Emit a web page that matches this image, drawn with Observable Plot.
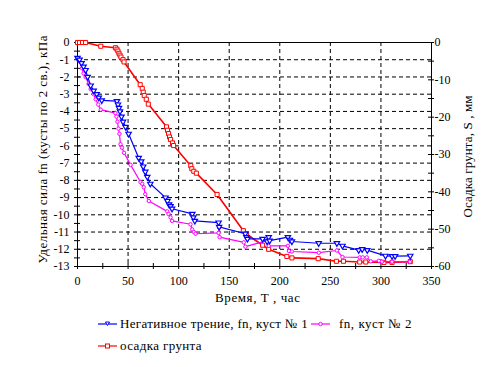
<!DOCTYPE html>
<html>
<head>
<meta charset="utf-8">
<script src="https://cdn.jsdelivr.net/npm/d3@7"></script>
<script src="https://cdn.jsdelivr.net/npm/@observablehq/plot@0.6"></script>
<style>
  html, body { margin: 0; padding: 0; background: #fff; }
  #wrap { position: relative; width: 489px; height: 367px; font-family: 'Liberation Serif', serif; font-size: 13px; color: #000; }
  .leg { position: absolute; display: flex; align-items: center; white-space: nowrap; font-family: 'Liberation Serif', serif; font-size: 13px; }
  .leg svg { display: block; }
</style>
</head>
<body>
<div id="wrap"></div>
<script>
// ---- Data ----
// Осадка грунта (S, мм) vs time T (час)
const soilT = [0, 2, 5, 8, 23, 37.5, 39, 40, 41, 42, 43, 45, 46, 62, 64, 65, 66, 68, 70, 88, 89, 90, 91, 92, 94, 95, 112, 113, 115, 117.5, 138, 164, 167, 183, 189, 207, 212, 238, 256, 263, 279, 285, 303, 311, 329];
const soilS = [0, 0, 0, 0, -1.0, -1.4, -1.8, -2.3, -2.9, -3.4, -3.9, -4.6, -5.2, -11.3, -12.3, -13.3, -14.2, -15.2, -16.5, -22.6, -23.5, -24.4, -25.3, -26.0, -26.9, -27.6, -33.0, -33.8, -34.5, -35.0, -40.7, -50.4, -51.3, -54.3, -55.4, -57.3, -57.7, -57.9, -58.6, -58.6, -58.8, -58.8, -58.9, -58.9, -58.7];

// Негативное трение, fn, куст № 1 (кПа)
const fn1T = [0, 2, 4, 6, 8, 10, 13, 16, 19, 21, 24, 39, 40, 41, 42, 43.5, 45, 47.5, 50.5, 60.5, 63, 65, 67, 69, 72, 87, 89, 90.5, 92, 93.5, 113.5, 114.5, 116, 139.5, 140, 166, 167, 168, 183, 187.5, 189, 190, 208, 210, 212, 238.5, 256.5, 262, 278, 281.5, 286.5, 304.5, 311, 314, 329];
const fn1V = [-0.9, -1.0, -1.2, -1.4, -1.6, -2.0, -2.5, -2.8, -3.0, -3.2, -3.36, -3.4, -3.6, -3.8, -4.0, -4.3, -4.6, -4.9, -5.3, -6.7, -6.9, -7.2, -7.5, -7.8, -8.2, -9.0, -9.2, -9.4, -9.5, -9.65, -9.95, -10.15, -10.35, -10.45, -10.7, -11.1, -11.3, -11.4, -11.4, -11.55, -11.3, -11.5, -11.3, -11.45, -11.55, -11.65, -11.65, -11.8, -12.05, -12.0, -12.05, -12.38, -12.4, -12.4, -12.38];

// fn, куст № 2 (кПа)
const fn2T = [0, 2, 4.5, 6, 8, 11, 13, 16, 18, 20.5, 23, 37.5, 38.5, 39.5, 40.5, 41.5, 42.5, 44, 46, 52.5, 62.3, 64, 65.5, 67, 70.5, 88.7, 90, 92, 93.5, 111.7, 113.4, 115, 116.7, 139.5, 140, 140.5, 164.4, 166, 187.5, 189, 208, 209, 212, 238.6, 256.5, 262, 279, 282, 286, 290, 298, 301, 311, 328.6];
const fn2V = [-0.9, -1.1, -1.5, -1.8, -2.0, -2.4, -2.7, -3.0, -3.3, -3.6, -3.9, -4.1, -4.3, -4.6, -5.0, -5.3, -5.9, -6.1, -6.4, -7.1, -8.1, -8.2, -8.4, -8.8, -9.2, -9.8, -9.95, -10.15, -10.35, -10.55, -10.85, -11.0, -11.1, -11.05, -10.75, -11.3, -11.6, -11.85, -11.5, -11.8, -11.8, -12.1, -12.13, -12.2, -12.07, -12.45, -12.47, -12.47, -12.47, -12.7, -12.67, -12.72, -12.72, -12.73];

// Tick values
const xTicks = [0, 50, 100, 150, 200, 250, 300, 350];
const xMinor = d3.range(0, 351, 25);
const yTicks = d3.range(0, -14, -1);
const yMinor = d3.range(0, -13.01, -0.5);
const sTicks = [0, -10, -20, -30, -40, -50, -60];
const sMinor = d3.range(0, -60.01, -5);

const labels = {
  x: "Время, T , час",
  yLeft: "Удельная сила fn (кусты по 2 св.), кПа",
  yRight: "Осадка грунта, S , мм",
  fn1: "Негативное трение, fn, куст № 1",
  fn2: "fn, куст № 2",
  soil: "осадка грунта"
};

const colors = { fn1: "#0000ff", fn2: "#ff00ff", soil: "#ff0000" };

// ---- Build tables ----
const S_TO_Y = 13 / 60; // right axis: -60 mm aligns with -13 kPa
const soil = soilT.map((t, i) => ({ t, s: soilS[i] }));
const fn1 = fn1T.map((t, i) => ({ t, v: fn1V[i] }));
const fn2 = fn2T.map((t, i) => ({ t, v: fn2V[i] }));

const FONT = "'Liberation Serif', serif";
const W = 489, H = 305;
const tickHalfX = 3 * 350 / 354;  // ~3px in x units
const tickHalfY = 3 * 13 / 224;   // ~3px in y units

const chart = Plot.plot({
  width: W,
  height: H,
  marginLeft: 77,
  marginRight: 58,
  marginTop: 42,
  marginBottom: 39,
  style: { fontFamily: FONT, fontSize: "12px", background: "#fff", color: "#000" },
  x: { domain: [0, 350] },
  y: { domain: [-13, 0] },
  marks: [
    Plot.gridX(xTicks.filter(d => d > 0 && d < 350), { stroke: "#000", strokeOpacity: 1, strokeDasharray: "4,3" }),
    Plot.gridY(yTicks.filter(d => d < 0 && d > -13), { stroke: "#000", strokeOpacity: 1, strokeDasharray: "4,3" }),
    Plot.frame({ stroke: "#000" }),
    Plot.ruleX(xMinor, { x: d => d, y1: -13 - tickHalfY, y2: -13 + tickHalfY, stroke: "#000" }),
    Plot.ruleY(yMinor, { y: d => d, x1: -tickHalfX, x2: tickHalfX, stroke: "#000" }),
    Plot.ruleY(sMinor, { y: d => d * S_TO_Y, x1: 350 - tickHalfX, x2: 350 + tickHalfX, stroke: "#000" }),
    Plot.axisX(xTicks, { tickSize: 0, tickPadding: 10, tickFormat: d => String(d), label: null }),
    Plot.axisY(yTicks, { tickSize: 0, tickPadding: 8, tickFormat: d => String(d), label: null }),
    Plot.axisY(sTicks.map(s => s * S_TO_Y), { anchor: "right", tickSize: 0, tickPadding: 3, tickFormat: d => String(Math.round(d / S_TO_Y)), label: null }),
    Plot.line(soil, { x: "t", y: d => d.s * S_TO_Y, stroke: colors.soil, strokeWidth: 1.6 }),
    Plot.dot(soil, { x: "t", y: d => d.s * S_TO_Y, symbol: "square", r: 2.3, stroke: colors.soil, fill: "#fff", strokeWidth: 1 }),
    Plot.line(fn2, { x: "t", y: "v", stroke: colors.fn2, strokeWidth: 1.2 }),
    Plot.dot(fn2, { x: "t", y: "v", symbol: "circle", r: 1.7, stroke: colors.fn2, fill: "#fff", strokeWidth: 1 }),
    Plot.line(fn1, { x: "t", y: "v", stroke: colors.fn1, strokeWidth: 1.2 }),
    Plot.dot(fn1, { x: "t", y: "v", symbol: "triangle", rotate: 180, r: 2.0, stroke: colors.fn1, fill: "#fff", strokeWidth: 1.2 }),
    Plot.text([labels.x], { text: d => d, frameAnchor: "bottom", textAnchor: "middle", lineAnchor: "middle", dx: 3, dy: 31, fontSize: 13 }),
    Plot.text([labels.yLeft], { text: d => d, frameAnchor: "left", textAnchor: "middle", lineAnchor: "middle", dx: -35, dy: -5, rotate: -90, fontSize: 13 }),
    Plot.text([labels.yRight], { text: d => d, frameAnchor: "right", textAnchor: "middle", lineAnchor: "middle", dx: 36, dy: 2, rotate: -90, fontSize: 13 })
  ]
});

chart.setAttribute("font-family", FONT);
chart.querySelectorAll("g, text").forEach(el => {
  if (el.getAttribute("font-family")) el.setAttribute("font-family", FONT);
});
chart.querySelectorAll("text").forEach(el => { el.style.fontFamily = FONT; });

const wrap = document.getElementById("wrap");
chart.style.position = "absolute";
chart.style.left = "0px";
chart.style.top = "0px";
wrap.appendChild(chart);

// stretch the titles to the extents measured on the reference
const targets = { [labels.x]: 85, [labels.yLeft]: 228, [labels.yRight]: 122 };
chart.querySelectorAll("text").forEach(el => {
  const t = el.textContent;
  if (targets[t]) {
    el.setAttribute("textLength", targets[t]);
    el.setAttribute("lengthAdjust", "spacing");
  }
});

function legendItem(color, kind, text, left, top, width) {
  const div = document.createElement("div");
  div.className = "leg";
  div.style.left = left + "px";
  div.style.top = top + "px";
  const ns = "http://www.w3.org/2000/svg";
  const svg = document.createElementNS(ns, "svg");
  svg.setAttribute("width", 20);
  svg.setAttribute("height", 12);
  const line = document.createElementNS(ns, "line");
  line.setAttribute("x1", 0); line.setAttribute("x2", 19);
  line.setAttribute("y1", 6); line.setAttribute("y2", 6);
  line.setAttribute("stroke", color); line.setAttribute("stroke-width", 1.2);
  svg.appendChild(line);
  let m;
  if (kind === "square") {
    m = document.createElementNS(ns, "rect");
    m.setAttribute("x", 7.5); m.setAttribute("y", 4); m.setAttribute("width", 4); m.setAttribute("height", 4);
  } else if (kind === "circle") {
    m = document.createElementNS(ns, "circle");
    m.setAttribute("cx", 9.5); m.setAttribute("cy", 6); m.setAttribute("r", 1.7);
  } else {
    m = document.createElementNS(ns, "path");
    m.setAttribute("d", "M7.5,4 L11.5,4 L9.5,7.5 Z");
  }
  m.setAttribute("fill", "#fff"); m.setAttribute("stroke", color);
  svg.appendChild(m);
  div.appendChild(svg);
  const span = document.createElement("span");
  span.textContent = text;
  span.style.marginLeft = (kind === "circle" ? 8 : 2) + "px";
  div.appendChild(span);
  wrap.appendChild(div);
  const w = span.getBoundingClientRect().width;
  const n = text.length;
  if (n > 1) span.style.letterSpacing = ((width - w) / n) + "px";
}
legendItem(colors.fn1, "triangle", labels.fn1, 98, 316, 188);
legendItem(colors.fn2, "circle", labels.fn2, 311, 316, 73);
legendItem(colors.soil, "square", labels.soil, 98, 338, 82);
</script>
</body>
</html>
